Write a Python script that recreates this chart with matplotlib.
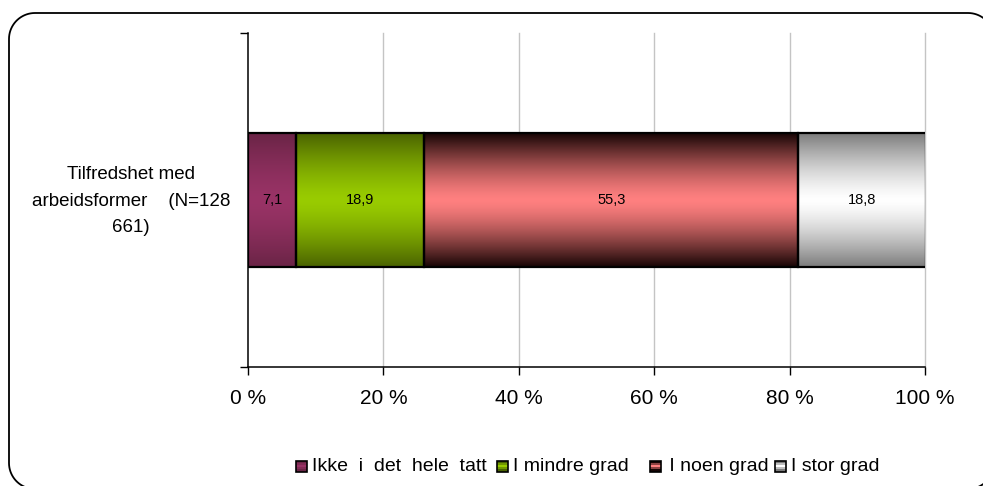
import numpy as np
import matplotlib
matplotlib.use("Agg")
import matplotlib.pyplot as plt
from matplotlib.patches import Rectangle, PathPatch
from matplotlib.path import Path
from matplotlib.colors import to_rgb

plt.rcParams['font.family'] = ['Liberation Sans', 'DejaVu Sans']

# Data
category = "Tilfredshet med\narbeidsformer    (N=128\n661)"
series_names = ["Ikke  i  det  hele  tatt", "I mindre grad", " I noen grad", "I stor grad"]
values = [7.1, 18.9, 55.3, 18.8]
value_labels = ["7,1", "18,9", "55,3", "18,8"]
tick_values = [0, 20, 40, 60, 80, 100]
tick_labels = ["0 %", "20 %", "40 %", "60 %", "80 %", "100 %"]

# Gradient fill per series: (centre colour, edge colour)
fills = [("#993366", "#6a2446"),
         ("#99CC00", "#4a6300"),
         ("#FF8080", "#160404"),
         ("#FFFFFF", "#7c7c7c")]


def gradient_rows(center, edge, n=200, p=1.4):
    c = np.array(to_rgb(center))
    e = np.array(to_rgb(edge))
    y = np.linspace(-1, 1, n)
    d = np.abs(y) ** p
    return (c[None, :] * (1 - d[:, None]) + e[None, :] * d[:, None])[:, None, :]


W, H = 983, 486
fig = plt.figure(figsize=(W / 100, H / 100), dpi=100)
ax = fig.add_axes([248 / W, 1 - 367 / H, 677 / W, 334 / H])

bar_h = 0.4
left = 0.0
for v, lab, (cc, ec) in zip(values, value_labels, fills):
    img = gradient_rows(cc, ec)
    ax.imshow(img, extent=[left, left + v, -bar_h / 2, bar_h / 2],
              aspect='auto', zorder=2, interpolation='bilinear')
    ax.barh(0, v, left=left, height=bar_h, facecolor='none',
            edgecolor='black', linewidth=1.6, zorder=3)
    ax.text(left + v / 2, 0, lab, ha='center', va='center',
            fontsize=10.5, color='black', zorder=4)
    left += v

ax.set_xlim(0, 100)
ax.set_ylim(-0.5, 0.5)

# Vertical gridlines
for t in tick_values[1:]:
    ax.axvline(t, color='#c4c4c4', linewidth=1.0, zorder=1, clip_on=False)

for s in ['top', 'right']:
    ax.spines[s].set_visible(False)
ax.spines['left'].set_linewidth(1.1)
ax.spines['bottom'].set_linewidth(1.1)

ax.set_xticks(tick_values)
ax.set_xticklabels(tick_labels, fontsize=15)
ax.tick_params(axis='x', direction='out', length=6, width=1.0, pad=10)
ax.set_yticks([-0.5, 0.5])
ax.set_yticklabels([])
ax.tick_params(axis='y', direction='out', length=6, width=1.0)

fig.text(131 / W, 1 - 201 / H, category, ha='center', va='center',
         fontsize=13.5, linespacing=1.72)

# Legend entries: swatch left edge, text left edge (pixels)
legend_y = 466
swatch_x = [296, 497, 650, 775]
text_x = [312, 513, 664, 791]
sw = 11
for (cc, ec), name, sx, tx in zip(fills, series_names, swatch_x, text_x):
    cols = gradient_rows(cc, ec, n=5, p=1.0)[:, 0, :]
    y0 = H - legend_y - sw / 2
    for i in range(5):
        fig.patches.append(Rectangle((sx, y0 + i * sw / 5), sw, sw / 5,
                                     facecolor=cols[i], edgecolor='none',
                                     transform=None))
    fig.patches.append(Rectangle((sx, y0), sw, sw, facecolor='none',
                                 edgecolor='black', linewidth=1.2,
                                 transform=None))
    fig.text(tx / W, 1 - legend_y / H, name, ha='left', va='center',
             fontsize=14)

# Rounded frame around the chart (pixel coordinates, origin bottom-left)
x0, x1 = 9.0, 994.0
y1, y0 = H - 13.0, H - 489.0
r = 26.0
pts = []
for cx, cy, a0 in [(x1 - r, y1 - r, 0), (x0 + r, y1 - r, 90),
                   (x0 + r, y0 + r, 180), (x1 - r, y0 + r, 270)]:
    ang = np.radians(np.linspace(a0, a0 + 90, 20))
    pts.extend(zip(cx + r * np.cos(ang), cy + r * np.sin(ang)))
pts.append(pts[0])
frame = PathPatch(Path(pts), transform=None, facecolor='none',
                  edgecolor='black', linewidth=1.3)
fig.patches.append(frame)

fig.savefig("out.png", dpi=100)
